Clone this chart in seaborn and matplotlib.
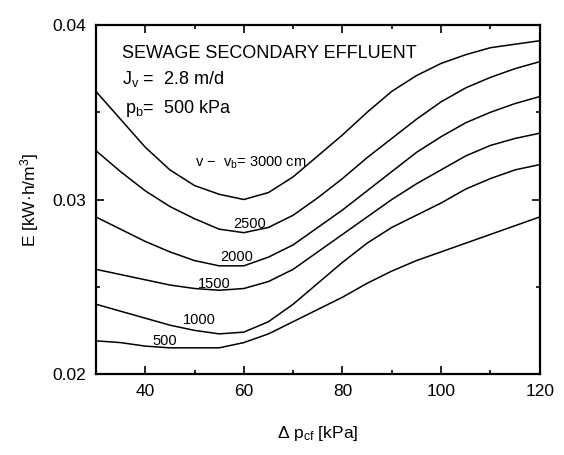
import pandas as pd
import matplotlib.pyplot as plt
import seaborn as sns
from matplotlib.ticker import MultipleLocator, FixedLocator

# valeurs (E en kW.h/m3)
dp_cf = [30, 35, 40, 45, 50, 55, 60, 65, 70, 75, 80, 85, 90, 95, 100, 105, 110, 115, 120]

E_3000 = [0.0362, 0.0346, 0.0330, 0.0317, 0.0308, 0.0303, 0.0300, 0.0304, 0.0313, 0.0325,
          0.0337, 0.0350, 0.0362, 0.0371, 0.0378, 0.0383, 0.0387, 0.0389, 0.0391]
E_2500 = [0.0328, 0.0316, 0.0305, 0.0296, 0.0289, 0.0283, 0.0281, 0.0284, 0.0291, 0.0301,
          0.0312, 0.0324, 0.0335, 0.0346, 0.0356, 0.0364, 0.0370, 0.0375, 0.0379]
E_2000 = [0.0290, 0.0283, 0.0276, 0.0270, 0.0265, 0.0262, 0.0262, 0.0267, 0.0274, 0.0284,
          0.0294, 0.0305, 0.0316, 0.0327, 0.0336, 0.0344, 0.0350, 0.0355, 0.0359]
E_1500 = [0.0260, 0.0257, 0.0254, 0.0251, 0.0249, 0.0248, 0.0249, 0.0253, 0.0260, 0.0270,
          0.0280, 0.0290, 0.0300, 0.0309, 0.0317, 0.0325, 0.0331, 0.0335, 0.0338]
E_1000 = [0.0240, 0.0236, 0.0232, 0.0228, 0.0225, 0.0223, 0.0224, 0.0230, 0.0240, 0.0252,
          0.0264, 0.0275, 0.0284, 0.0291, 0.0298, 0.0306, 0.0312, 0.0317, 0.0320]
E_500 = [0.0219, 0.0218, 0.0216, 0.0215, 0.0215, 0.0215, 0.0218, 0.0223, 0.0230, 0.0237,
         0.0244, 0.0252, 0.0259, 0.0265, 0.0270, 0.0275, 0.0280, 0.0285, 0.0290]

series = {"3000": E_3000, "2500": E_2500, "2000": E_2000,
          "1500": E_1500, "1000": E_1000, "500": E_500}

# étiquettes des courbes (position)
label_text = ["v \u2212  v$_\\mathrm{b}$= 3000 cm", "2500", "2000", "1500", "1000", "500"]
label_x = [50.1, 61.1, 58.5, 54.1, 50.9, 44.0]
label_y = [0.03188, 0.02835, 0.02648, 0.02495, 0.02285, 0.02166]
label_ha = ["left", "center", "center", "center", "center", "center"]

rows = []
for name, vals in series.items():
    for x, e in zip(dp_cf, vals):
        rows.append({"dp": x, "E": e, "serie": name})
df = pd.DataFrame(rows)

sns.set_style("ticks", {"axes.edgecolor": "black", "text.color": "black",
                        "axes.labelcolor": "black", "xtick.color": "black",
                        "ytick.color": "black"})
plt.rcParams["font.family"] = ["Liberation Sans", "DejaVu Sans"]
plt.rcParams["mathtext.fontset"] = "custom"
plt.rcParams["mathtext.rm"] = "Liberation Sans"
plt.rcParams["mathtext.it"] = "Liberation Sans:italic"

fig = plt.figure(figsize=(5.64, 4.55), dpi=100)
ax = fig.add_axes([0.170, 0.178, 0.787, 0.767])

sns.lineplot(data=df, x="dp", y="E", hue="serie", palette=["black"] * 6,
             linewidth=1.1, legend=False, ax=ax, sort=False)

for t, x, y, ha in zip(label_text, label_x, label_y, label_ha):
    ax.text(x, y, t, ha=ha, va="baseline", fontsize=10.5, color="black")

ax.text(35.2, 0.0381, "SEWAGE SECONDARY EFFLUENT", fontsize=13, va="baseline", color="black")
ax.text(35.2, 0.0366, "J$_\\mathrm{v}$ =  2.8 m/d", fontsize=13, va="baseline", color="black")
ax.text(36.0, 0.03494, "p$_\\mathrm{b}$=  500 kPa", fontsize=13, va="baseline", color="black")

ax.set_xlim(30, 120)
ax.set_ylim(0.02, 0.04)
ax.xaxis.set_major_locator(FixedLocator([40, 60, 80, 100, 120]))
ax.xaxis.set_minor_locator(MultipleLocator(10))
ax.yaxis.set_major_locator(FixedLocator([0.02, 0.03, 0.04]))
ax.yaxis.set_minor_locator(FixedLocator([0.025, 0.035]))
ax.set_yticklabels(["0.02", "0.03", "0.04"])
ax.tick_params(which="both", direction="in", top=True, right=True, labelsize=12.5,
               width=1.2, colors="black")
ax.tick_params(which="major", length=6, pad=7)
ax.tick_params(which="minor", length=3)
for s in ax.spines.values():
    s.set_linewidth(1.6)
    s.set_color("black")

ax.set_xlabel("\u0394 p$_\\mathrm{cf}$ [kPa]", fontsize=12.5, labelpad=18, color="black")
ax.set_ylabel("E [kW\u00b7h/m$^\\mathrm{3}$]", fontsize=12.5, labelpad=8, color="black")

fig.savefig("out.png", dpi=100)
